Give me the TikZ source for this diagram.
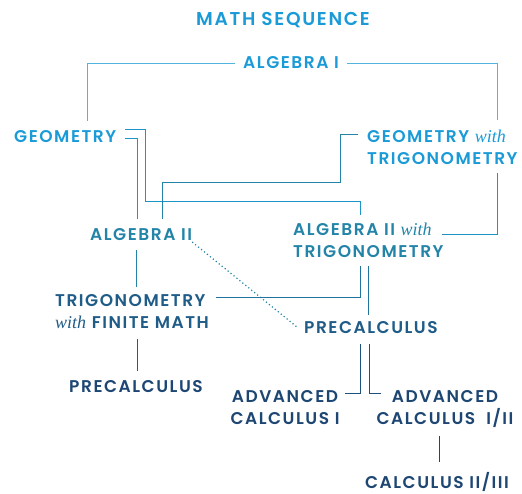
\documentclass[tikz,border=0pt]{standalone}
\usepackage{fontspec}
\setmainfont{Poppins}[UprightFont=*-SemiBold,LetterSpace=9]
\newfontfamily\withfont{Liberation Serif}
\usetikzlibrary{calc}
\definecolor{skyblue}{HTML}{1A9BD7}
\definecolor{tealblue}{HTML}{2384A8}
\definecolor{midblue}{HTML}{1F5C88}
\definecolor{navyblue}{HTML}{1D4673}
\newcommand{\with}{{\withfont\itshape\mdseries\fontsize{18}{22}\selectfont with}}

\begin{document}
\begin{tikzpicture}[x=1pt,y=-1pt,
  course/.style={inner sep=0pt,font=\fontsize{17}{22}\selectfont},
  link/.style={line width=0.9pt}]
\useasboundingbox (0,0) rectangle (522,493);
% courses
\node[course,text=skyblue,font=\fontsize{18.6}{22}\selectfont] (title) at (283,20) {MATH SEQUENCE};
\node[course,text=skyblue] (alg1) at (291,63) {ALGEBRA I};
\node[course,text=skyblue,anchor=west] (geo) at (14,137) {GEOMETRY};
\node[course,text=skyblue,align=left,anchor=north west] (geotrig) at (367,130) {GEOMETRY \with\\TRIGONOMETRY};
\node[course,text=tealblue,anchor=west] (alg2) at (90,235) {ALGEBRA II};
\node[course,text=tealblue,align=left,anchor=north west] (alg2trig) at (293,223) {ALGEBRA II \with\\TRIGONOMETRY};
\node[course,text=midblue,align=left,anchor=north west] (trigfin) at (55,294) {TRIGONOMETRY\\\with{} FINITE MATH};
\node[course,text=midblue,anchor=west] (precalcR) at (304,328) {PRECALCULUS};
\node[course,text=navyblue] (precalcL) at (136,387) {PRECALCULUS};
\node[course,text=navyblue,align=center,anchor=north] (advI) at (285,390) {ADVANCED\\CALCULUS I};
\node[course,text=navyblue,align=center,anchor=north] (advII) at (445,390) {ADVANCED\\CALCULUS\ \ I/II};
\node[course,text=navyblue] (calc23) at (437,482) {CALCULUS II/III};
% prerequisites
\draw[link,skyblue!75] ($(alg1.west)+(-8,0)$) -| ($(geo.north west)+(73,-10)$);
\draw[link,skyblue!75] ($(alg1.east)+(8,0)$) -| ($(geotrig.north west)+(130,-10)$);
\draw[link,skyblue!70!tealblue] ($(geo.east)+(9,-8)$) -| ($(geo.east)+(29,64)$) -| ($(alg2trig.north west)+(67,-8)$);
\draw[link,skyblue!70!tealblue] ($(geo.east)+(9,1)$) -| ($(alg2.north west)+(47,-10)$);
\draw[link,tealblue] ($(geotrig.north west)+(-9,4)$) -| ($(geotrig.north west)+(-27,52)$) -| ($(alg2.north west)+(72,-10)$);
\draw[link,skyblue!60!tealblue] ($(geotrig.south west)+(130,8)$) |- ($(alg2trig.north west)+(149,11)$);
\draw[link,tealblue] ($(alg2.south west)+(46,9)$) -- ($(alg2.south west |- trigfin.north)+(46,-7)$);
\draw[link,tealblue,line width=1.2pt,dash pattern=on 1.2pt off 2.6pt] ($(alg2.east)+(0,7)$) -- ($(precalcR.west)+(-7,-1)$);
\draw[link,tealblue!60!midblue] ($(alg2trig.south west)+(67,8)$) |- ($(trigfin.north east)+(7,3)$);
\draw[link,tealblue!60!midblue] ($(alg2trig.south west)+(75,8)$) -- ($(alg2trig.south west |- precalcR.north)+(75,-7)$);
\draw[link,midblue] ($(trigfin.south west)+(82,10)$) -- ($(trigfin.south west |- precalcL.north)+(82,-10)$);
\draw[link,midblue!50!navyblue] ($(precalcR.south west)+(56,10)$) |- ($(advI.north east)+(5,3)$);
\draw[link,midblue!50!navyblue] ($(precalcR.south west)+(65,10)$) |- ($(advII.north west)+(5,3)$);
\draw[link,navyblue] ($(advII.south)+(-6,8)$) -- ($(advII.south |- calc23.north)+(-6,-10)$);
\end{tikzpicture}
\end{document}
